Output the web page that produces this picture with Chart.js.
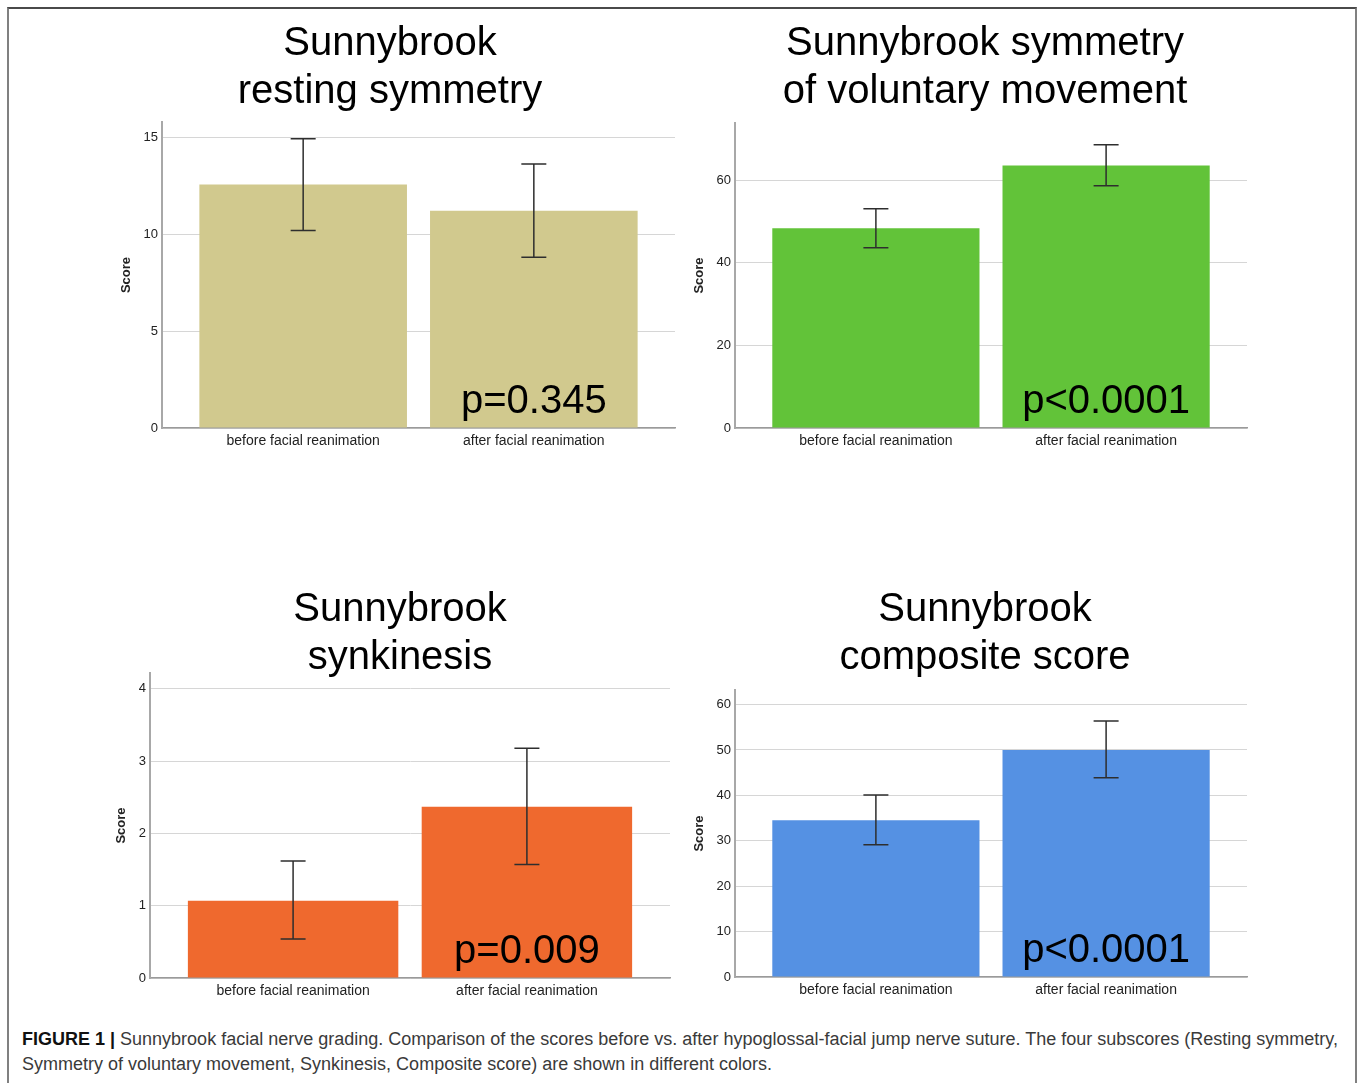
<!DOCTYPE html>
<html lang="en">
<head>
  <meta charset="UTF-8" />
  <title>Sunnybrook facial nerve grading</title>
  <script src="https://cdn.jsdelivr.net/npm/chart.js"></script>
  <style>
    body {
      margin: 0;
      background: white;
      font-family: 'Liberation Sans', Arial, sans-serif;
    }
    .frame {
      position: absolute;
      left: 7px;
      top: 7px;
      width: 1346px;
      height: 1090px;
      border: 2px solid #808080;
      border-top-color: #4a4a4a;
      border-bottom: none;
    }
    canvas {
      position: absolute;
    }
    #caption {
      position: absolute;
      left: 22px;
      top: 1027px;
      font-family: 'Liberation Sans', Arial, sans-serif;
      font-size: 18px;
      line-height: 25px;
      color: #3a3a3a;
      white-space: nowrap;
    }
    #caption b {
      color: #111;
    }
  </style>
</head>
<body>
  <div class="frame"></div>
  <canvas id="restingChart" width="580" height="448" style="left:100px; top:10px;"></canvas>
  <canvas id="voluntaryChart" width="624" height="448" style="left:673px; top:10px;"></canvas>
  <canvas id="synkinesisChart" width="624" height="432" style="left:88px; top:576px;"></canvas>
  <canvas id="compositeChart" width="624" height="431" style="left:673px; top:576px;"></canvas>
  <div id="caption"><b>FIGURE 1 |</b> Sunnybrook facial nerve grading. Comparison of the scores before vs. after hypoglossal-facial jump nerve suture. The four subscores (Resting symmetry,<br>Symmetry of voluntary movement, Synkinesis, Composite score) are shown in different colors.</div>

  <script>
    // shared categories
    const categories = ['before facial reanimation', 'after facial reanimation'];

    // resting symmetry
    const restingMeans = [12.57, 11.21];
    const restingLow = [10.19, 8.81];
    const restingHigh = [14.93, 13.62];
    const restingTicks = [0, 5, 10, 15];

    // symmetry of voluntary movement
    const voluntaryMeans = [48.4, 63.6];
    const voluntaryLow = [43.7, 58.7];
    const voluntaryHigh = [53.1, 68.6];
    const voluntaryTicks = [0, 20, 40, 60];

    // synkinesis
    const synkinesisMeans = [1.07, 2.37];
    const synkinesisLow = [0.54, 1.57];
    const synkinesisHigh = [1.62, 3.18];
    const synkinesisTicks = [0, 1, 2, 3, 4];

    // composite score
    const compositeMeans = [34.5, 50.0];
    const compositeLow = [29.1, 43.9];
    const compositeHigh = [40.1, 56.4];
    const compositeTicks = [0, 10, 20, 30, 40, 50, 60];

    const pValues = ['p=0.345', 'p<0.0001', 'p=0.009', 'p<0.0001'];

    const FONT = "'Liberation Sans', Arial, sans-serif";

    // big two-line heading, centred on the canvas
    const headingPlugin = {
      id: 'heading',
      afterDraw(chart, args, opts) {
        const ctx = chart.ctx;
        ctx.save();
        ctx.fillStyle = '#000';
        ctx.font = '40px ' + FONT;
        ctx.textAlign = 'center';
        ctx.textBaseline = 'middle';
        opts.lines.forEach((line, i) => {
          ctx.fillText(line, chart.width / 2, 34 + i * 48);
        });
        ctx.restore();
      }
    };

    // error bars + p value drawn on top of the bars
    const errorBarPlugin = {
      id: 'errorBars',
      afterDatasetsDraw(chart, args, opts) {
        const ctx = chart.ctx;
        const meta = chart.getDatasetMeta(0);
        const y = chart.scales.y;
        ctx.save();
        ctx.strokeStyle = '#2e2e2e';
        ctx.lineWidth = 1.5;
        meta.data.forEach((bar, i) => {
          const top = y.getPixelForValue(opts.high[i]);
          const bottom = y.getPixelForValue(opts.low[i]);
          ctx.beginPath();
          ctx.moveTo(bar.x, top);
          ctx.lineTo(bar.x, bottom);
          ctx.moveTo(bar.x - 12.5, top);
          ctx.lineTo(bar.x + 12.5, top);
          ctx.moveTo(bar.x - 12.5, bottom);
          ctx.lineTo(bar.x + 12.5, bottom);
          ctx.stroke();
        });
        // p value inside the second bar
        const last = meta.data[meta.data.length - 1];
        ctx.fillStyle = '#000';
        ctx.font = '40px ' + FONT;
        ctx.textAlign = 'center';
        ctx.textBaseline = 'alphabetic';
        ctx.fillText(opts.pText, last.x, y.getPixelForValue(0) - 15);
        ctx.restore();
      }
    };

    function makeChart(id, cfg) {
      const ctx = document.getElementById(id).getContext('2d');
      return new Chart(ctx, {
        type: 'bar',
        data: {
          datasets: [{
            data: cfg.means.map((v, i) => ({ x: i, y: v })),
            backgroundColor: cfg.color,
            borderWidth: 0,
            categoryPercentage: 1,
            barPercentage: 0.9
          }]
        },
        options: {
          responsive: false,
          animation: false,
          layout: { padding: { right: cfg.padRight, left: 0, top: cfg.padTop, bottom: 0 } },
          plugins: {
            legend: { display: false },
            tooltip: { enabled: false },
            heading: { lines: cfg.title },
            errorBars: { low: cfg.low, high: cfg.high, pText: cfg.pText }
          },
          scales: {
            x: {
              type: 'linear',
              offset: false,
              min: -0.612,
              max: 1.612,
              grid: { display: false, drawTicks: false },
              border: { display: true, color: '#9a9a9a', width: 1.5 },
              afterBuildTicks: (scale) => { scale.ticks = categories.map((c, i) => ({ value: i })); },
              afterFit: (scale) => { scale.height = 30; },
              ticks: {
                autoSkip: false,
                maxRotation: 0,
                padding: 5,
                color: '#222',
                font: { family: FONT, size: 14 },
                callback: (value) => categories[value]
              }
            },
            y: {
              min: 0,
              max: cfg.yMax,
              grid: { color: '#d6d6d6', lineWidth: 1, drawTicks: false },
              border: { display: true, color: '#a8a8a8', width: 2 },
              afterBuildTicks: (scale) => { scale.ticks = cfg.ticks.map(v => ({ value: v })); },
              afterFit: (scale) => { scale.width = 62; },
              ticks: {
                padding: 4,
                color: '#222',
                font: { family: FONT, size: 13 }
              },
              title: {
                display: true,
                text: 'Score',
                color: '#222',
                font: { family: FONT, size: 13, weight: 'bold' },
                padding: { top: cfg.scoreOffset, bottom: 0 }
              }
            }
          }
        },
        plugins: [errorBarPlugin, headingPlugin]
      });
    }

    makeChart('restingChart', {
      title: ['Sunnybrook', 'resting symmetry'],
      means: restingMeans, low: restingLow, high: restingHigh, ticks: restingTicks,
      color: '#d1c98e', yMax: 15.79, padRight: 5, padTop: 112, scoreOffset: 19,
      pText: pValues[0]
    });

    makeChart('voluntaryChart', {
      title: ['Sunnybrook symmetry', 'of voluntary movement'],
      means: voluntaryMeans, low: voluntaryLow, high: voluntaryHigh, ticks: voluntaryTicks,
      color: '#62c339', yMax: 73.9, padRight: 50, padTop: 113, scoreOffset: 19,
      pText: pValues[1]
    });

    makeChart('synkinesisChart', {
      title: ['Sunnybrook', 'synkinesis'],
      means: synkinesisMeans, low: synkinesisLow, high: synkinesisHigh, ticks: synkinesisTicks,
      color: '#ef692e', yMax: 4.22, padRight: 42, padTop: 97, scoreOffset: 26,
      pText: pValues[2]
    });

    makeChart('compositeChart', {
      title: ['Sunnybrook', 'composite score'],
      means: compositeMeans, low: compositeLow, high: compositeHigh, ticks: compositeTicks,
      color: '#5591e3', yMax: 63.2, padRight: 50, padTop: 114, scoreOffset: 19,
      pText: pValues[3]
    });
  </script>
</body>
</html>
